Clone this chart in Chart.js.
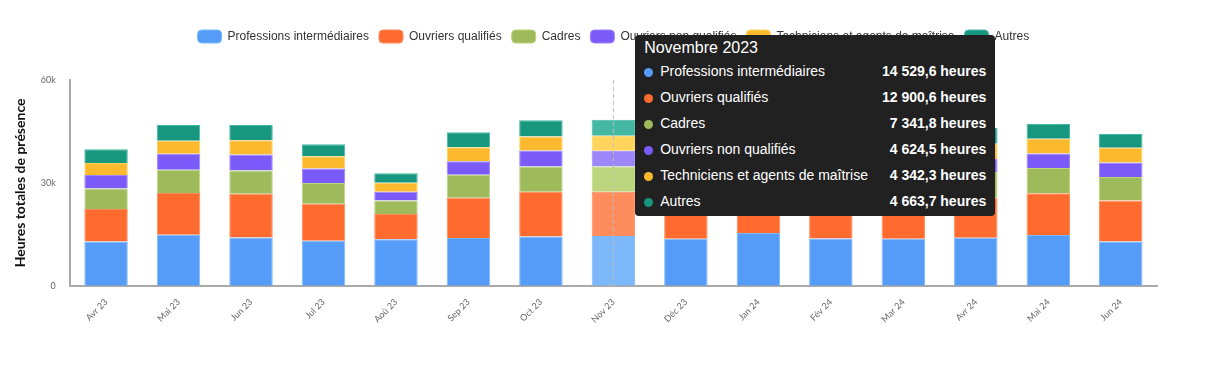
<!DOCTYPE html>
<html lang="fr">
<head>
<meta charset="utf-8">
<script src="https://cdn.jsdelivr.net/npm/chart.js@4/dist/chart.umd.min.js"></script>
<style>
  body { margin: 0; background: #fff; }
  #wrap { position: relative; width: 1232px; height: 368px; }
  #tip {
    position: absolute; background: #212121; color: #fff; border-radius: 4px;
    font-family: "Liberation Sans", Arial, sans-serif; font-size: 14px;
    padding: 4px 9px 2px 9px; pointer-events: none; opacity: 0;
  }
  #tip .t { font-size: 16px; margin-bottom: 1px; }
  #tip table { border-collapse: collapse; }
  #tip td { padding: 0; height: 26px; white-space: nowrap; }
  #tip .dot { display: inline-block; width: 9px; height: 9px; border-radius: 50%; margin-right: 7px; vertical-align: -1px; }
  #tip .v { font-weight: bold; text-align: right; padding-left: 14px; }
</style>
</head>
<body>
<div id="wrap">
  <canvas id="chart" width="1232" height="368"></canvas>
  <div id="tip"></div>
</div>
<script>
const mois = ['Avr 23', 'Mai 23', 'Jun 23', 'Jul 23', 'Aoû 23', 'Sep 23', 'Oct 23', 'Nov 23',
    'Déc 23', 'Jan 24', 'Fév 24', 'Mar 24', 'Avr 24', 'Mai 24', 'Jun 24'];
const moisComplets = ['Avril 2023', 'Mai 2023', 'Juin 2023', 'Juillet 2023', 'Août 2023', 'Septembre 2023',
    'Octobre 2023', 'Novembre 2023', 'Décembre 2023', 'Janvier 2024', 'Février 2024', 'Mars 2024',
    'Avril 2024', 'Mai 2024', 'Juin 2024'];

const professionsInter = [12900, 14900, 14100, 13100, 13600, 13900, 14400, 14529.6, 13700, 15400, 13800, 13700, 14000, 14800, 12900];
const ouvriersQualifies = [9500, 12150, 12700, 10800, 7350, 11800, 13000, 12900.6, 11600, 12500, 12100, 12200, 11650, 12200, 12000];
const cadres = [6000, 6750, 6800, 6100, 3900, 6700, 7350, 7341.8, 6600, 7100, 7000, 7200, 7550, 7350, 6850];
const ouvriersNonQualifies = [3900, 4700, 4700, 4200, 2550, 3900, 4700, 4624.5, 4100, 4500, 4300, 4400, 3800, 4200, 4200];
const techniciens = [3500, 3800, 4100, 3600, 2650, 4100, 4100, 4342.3, 3800, 4200, 4200, 4300, 4400, 4300, 4300];
const autres = [4000, 4600, 4500, 3500, 2750, 4400, 4700, 4663.7, 4000, 4500, 4400, 4500, 4600, 4300, 4000];

const moisActif = 7;

const series = [
    { label: 'Professions intermédiaires', data: professionsInter, color: '#559CF8', hover: '#7DB8FB' },
    { label: 'Ouvriers qualifiés', data: ouvriersQualifies, color: '#FF6A2F', hover: '#FF8C5C' },
    { label: 'Cadres', data: cadres, color: '#9EBA5A', hover: '#BDD67E' },
    { label: 'Ouvriers non qualifiés', data: ouvriersNonQualifies, color: '#7A5AF8', hover: '#9D85FA' },
    { label: 'Techniciens et agents de maîtrise', data: techniciens, color: '#FDB92E', hover: '#FFD45C' },
    { label: 'Autres', data: autres, color: '#18977F', hover: '#45B8A4' }
];

function formatHeures(v) {
    const s = v.toFixed(1).split('.');
    const ent = s[0].replace(/\B(?=(\d{3})+(?!\d))/g, ' ');
    return ent + ',' + s[1] + ' heures';
}

function externalTooltip(context) {
    const tip = document.getElementById('tip');
    const tooltip = context.tooltip;
    if (tooltip.opacity === 0) {
        tip.style.opacity = 0;
        return;
    }
    const idx = tooltip.dataPoints[0].dataIndex;
    let html = '<div class="t">' + moisComplets[idx] + '</div><table>';
    tooltip.dataPoints.forEach(dp => {
        const s = series[dp.datasetIndex];
        html += '<tr><td><span class="dot" style="background:' + s.color + '"></span>' + s.label +
            '</td><td class="v">' + formatHeures(dp.raw) + '</td></tr>';
    });
    html += '</table>';
    tip.innerHTML = html;
    const meta = context.chart.getDatasetMeta(0).data[idx];
    tip.style.left = (meta.x + meta.width / 2) + 'px';
    tip.style.top = '35px';
    tip.style.opacity = 1;
}

// legende centree sur la zone du graphique, avec un espace sous elle
const legendPlace = {
    id: 'legendPlace',
    beforeInit(chart) {
        const fit = chart.legend.fit;
        chart.legend.fit = function () {
            fit.bind(chart.legend)();
            this.height += 27;
        };
    },
    afterLayout(chart) {
        chart.legend.left = chart.chartArea.left;
        chart.legend.right = chart.chartArea.right;
    }
};

const crosshair = {
    id: 'crosshair',
    afterDatasetsDraw(chart) {
        const active = chart.getActiveElements();
        if (!active.length) return;
        const x = active[0].element.x;
        const ctx = chart.ctx;
        ctx.save();
        ctx.strokeStyle = '#bbbbbb';
        ctx.lineWidth = 1;
        ctx.setLineDash([4, 3]);
        ctx.beginPath();
        ctx.moveTo(x, chart.chartArea.top);
        ctx.lineTo(x, chart.chartArea.bottom);
        ctx.stroke();
        ctx.restore();
    }
};

const chart = new Chart(document.getElementById('chart'), {
    type: 'bar',
    data: {
        labels: mois,
        datasets: series.map(s => ({
            label: s.label,
            data: s.data,
            backgroundColor: s.color,
            borderColor: s.hover,
            borderWidth: 1,
            hoverBackgroundColor: s.hover,
            hoverBorderColor: s.hover,
            categoryPercentage: 0.6,
            barPercentage: 1
        }))
    },
    options: {
        responsive: false,
        animation: false,
        layout: { padding: { top: 20, right: 75, left: 6, bottom: 40 } },
        interaction: { mode: 'index', intersect: false },
        plugins: {
            legend: {
                position: 'top',
                labels: {
                    boxWidth: 24,
                    boxHeight: 13,
                    useBorderRadius: true,
                    borderRadius: 4,
                    padding: 10,
                    color: '#333',
                    font: { family: '"Liberation Sans", Arial, sans-serif', size: 12 }
                }
            },
            tooltip: { enabled: false, external: externalTooltip }
        },
        scales: {
            x: {
                stacked: true,
                grid: { display: false },
                border: { color: '#aaaaaa', width: 2 },
                ticks: {
                    minRotation: 45,
                    maxRotation: 45,
                    color: '#666',
                    font: { family: 'Lato', size: 9 }
                }
            },
            y: {
                stacked: true,
                min: 0,
                max: 60000,
                grid: { display: false },
                border: { color: '#aaaaaa', width: 2 },
                ticks: {
                    stepSize: 30000,
                    padding: 6,
                    color: '#666',
                    font: { family: 'Lato', size: 9 },
                    callback: v => v === 0 ? '0' : (v / 1000) + 'k'
                },
                title: {
                    display: true,
                    text: 'Heures totales de présence',
                    color: '#111',
                    padding: { top: 6, bottom: 6 },
                    font: { family: 'Lato', size: 14, weight: 'bold' }
                }
            }
        }
    },
    plugins: [crosshair, legendPlace]
});

const actifs = series.map((s, i) => ({ datasetIndex: i, index: moisActif }));
const el = chart.getDatasetMeta(0).data[moisActif];
chart.setActiveElements(actifs);
chart.tooltip.setActiveElements(actifs, { x: el.x, y: el.y });
chart.update();
</script>
</body>
</html>
